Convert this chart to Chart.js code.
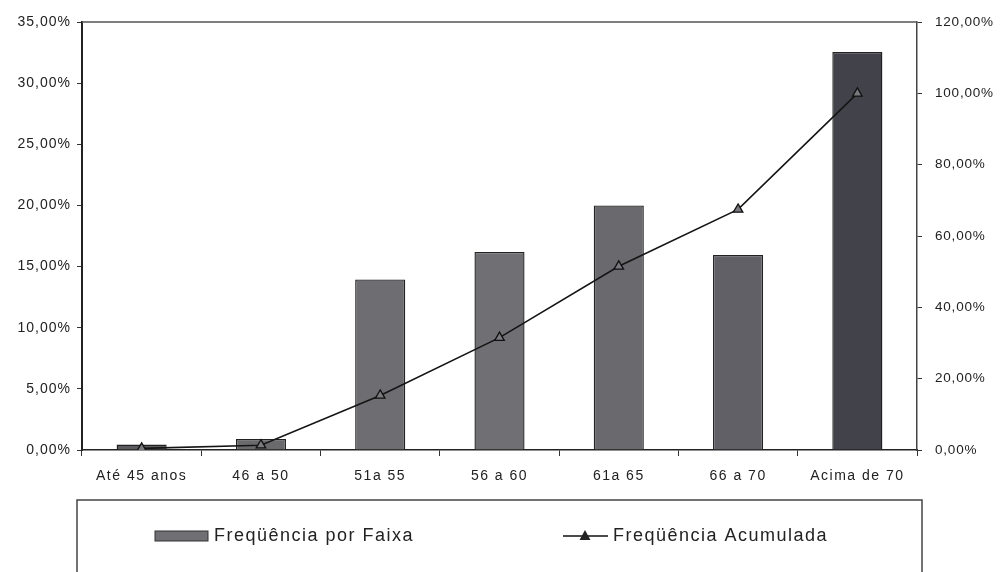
<!DOCTYPE html>
<html>
<head>
<meta charset="utf-8">
<script src="https://cdn.jsdelivr.net/npm/chart.js@4/dist/chart.umd.min.js"></script>
<style>
  html, body { margin: 0; padding: 0; background: #fff; }
  #wrap { width: 1000px; height: 572px; position: relative; }
</style>
</head>
<body>
<div id="wrap"><canvas id="c" width="1000" height="572"></canvas></div>
<script>
// Faixas etárias
const categories = ['Até 45 anos', '46 a 50', '51a 55', '56 a 60', '61a 65', '66 a 70', 'Acima de 70'];
// Frequência por faixa (%)
const freqPorFaixa = [0.45, 0.9, 13.95, 16.2, 20.0, 15.95, 32.55];
// Frequência acumulada (%)
const freqAcumulada = [0.45, 1.35, 15.3, 31.5, 51.5, 67.45, 100.0];
// Eixos
const leftTicks = [0, 5, 10, 15, 20, 25, 30, 35];
const rightTicks = [0, 20, 40, 60, 80, 100, 120];
const legendLabels = ['Freqüência por Faixa', 'Freqüência Acumulada'];

const barColors = ['#5c5c60', '#6a6a6c', '#6e6e72', '#707074', '#6a6a6e', '#606066', '#42424a'];
const fmt = v => v.toFixed(2).replace('.', ',') + '%';
const FONT = "'Liberation Sans', Arial, sans-serif";

// Espaçamento entre letras dos rótulos de cada eixo
const labelSpacing = { x: '1.5px', y: '1px', y1: '0.8px' };
const spacingPlugin = {
  id: 'spacing',
  afterLayout(chart) {
    Object.keys(labelSpacing).forEach(id => {
      const s = chart.scales[id];
      if (!s || s._spaced) return;
      const orig = s.drawLabels.bind(s);
      s.drawLabels = function (area) {
        const prev = this.ctx.letterSpacing;
        this.ctx.letterSpacing = labelSpacing[id];
        orig(area);
        this.ctx.letterSpacing = prev;
      };
      s._spaced = true;
    });
  }
};

// Moldura superior do gráfico e caixa da legenda
const framePlugin = {
  id: 'frame',
  afterDraw(chart) {
    const { ctx, chartArea: a } = chart;
    ctx.save();
    ctx.strokeStyle = '#555';
    ctx.lineWidth = 1.5;
    ctx.beginPath();
    ctx.moveTo(a.left, a.top);
    ctx.lineTo(a.right, a.top);
    ctx.stroke();

    // caixa da legenda
    ctx.strokeStyle = '#444';
    ctx.lineWidth = 1.5;
    ctx.strokeRect(77, 500, 845, 90);

    // item 1: barra
    const y = 536;
    ctx.fillStyle = barColors[3];
    ctx.strokeStyle = '#333';
    ctx.lineWidth = 1;
    ctx.fillRect(155, y - 5, 53, 10);
    ctx.strokeRect(155, y - 5, 53, 10);
    ctx.fillStyle = '#222';
    ctx.font = '18px ' + FONT;
    ctx.letterSpacing = '1.5px';
    ctx.textBaseline = 'middle';
    ctx.textAlign = 'left';
    ctx.fillText(legendLabels[0], 214, y);

    // item 2: linha com triângulo
    ctx.strokeStyle = '#111';
    ctx.lineWidth = 1.5;
    ctx.beginPath();
    ctx.moveTo(563, y);
    ctx.lineTo(608, y);
    ctx.stroke();
    ctx.fillStyle = '#222';
    ctx.beginPath();
    ctx.moveTo(585, y - 6);
    ctx.lineTo(590.5, y + 4);
    ctx.lineTo(579.5, y + 4);
    ctx.closePath();
    ctx.fill();
    ctx.fillText(legendLabels[1], 613, y);
    ctx.restore();
  }
};

new Chart(document.getElementById('c'), {
  data: {
    labels: categories,
    datasets: [
      {
        type: 'line',
        label: legendLabels[1],
        data: freqAcumulada,
        yAxisID: 'y1',
        borderColor: '#151515',
        borderWidth: 1.6,
        pointStyle: 'triangle',
        pointRadius: 5.5,
        pointBackgroundColor: '#7a7a7e',
        pointBorderColor: '#111',
        pointBorderWidth: 1.3,
        tension: 0,
        order: 1
      },
      {
        type: 'bar',
        label: legendLabels[0],
        data: freqPorFaixa,
        yAxisID: 'y',
        backgroundColor: barColors,
        borderColor: '#222',
        borderWidth: 1.4,
        barPercentage: 0.42,
        categoryPercentage: 1,
        order: 2
      }
    ]
  },
  options: {
    responsive: false,
    animation: false,
    layout: { padding: { top: 22, left: 0, right: 0, bottom: 0 } },
    plugins: { legend: { display: false }, tooltip: { enabled: false } },
    scales: {
      x: {
        offset: true,
        grid: { display: true, drawOnChartArea: false, offset: true, tickLength: 6, color: '#333', lineWidth: 1 },
        border: { display: true, color: '#222', width: 1.5 },
        ticks: { color: '#222', font: { family: FONT, size: 14 }, padding: 12, maxRotation: 0, autoSkip: false },
        afterFit(s) { s.height = 122; }
      },
      y: {
        position: 'left',
        min: 0, max: 35,
        afterBuildTicks(s) { s.ticks = leftTicks.map(v => ({ value: v })); },
        grid: { display: true, drawOnChartArea: false, tickLength: 5, color: '#333' },
        border: { display: true, color: '#222', width: 2 },
        ticks: { color: '#222', font: { family: FONT, size: 14 }, padding: 6, callback: v => fmt(v) },
        afterFit(s) { s.width = 82; }
      },
      y1: {
        position: 'right',
        min: 0, max: 120,
        afterBuildTicks(s) { s.ticks = rightTicks.map(v => ({ value: v })); },
        grid: { display: true, drawOnChartArea: false, tickLength: 5, color: '#333' },
        border: { display: true, color: '#444', width: 1.5 },
        ticks: { color: '#222', font: { family: FONT, size: 13.5 }, padding: 13, callback: v => fmt(v) },
        afterFit(s) { s.width = 83; }
      }
    }
  },
  plugins: [spacingPlugin, framePlugin]
});
</script>
</body>
</html>
